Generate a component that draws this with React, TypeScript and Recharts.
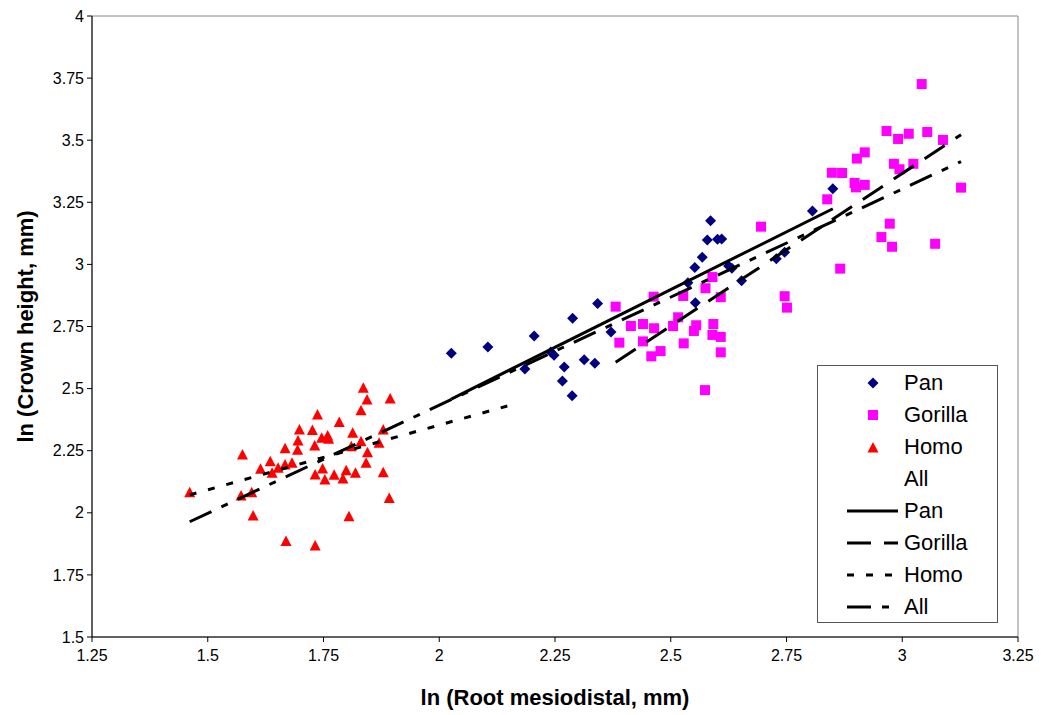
import { ScatterChart, Scatter, XAxis, YAxis, ReferenceArea, Legend, Label } from "recharts";

const panPts = [
  [2.026, 2.642], [2.105, 2.667], [2.185, 2.579], [2.205, 2.712], [2.241, 2.647],
  [2.248, 2.634], [2.266, 2.531], [2.27, 2.587], [2.287, 2.471], [2.288, 2.783],
  [2.313, 2.616], [2.336, 2.602], [2.342, 2.843], [2.371, 2.728], [2.537, 2.926],
  [2.552, 2.988], [2.553, 2.846], [2.568, 3.029], [2.579, 3.098], [2.586, 3.176],
  [2.601, 3.101], [2.61, 3.102], [2.625, 2.994], [2.632, 2.984], [2.653, 2.934],
  [2.728, 3.023], [2.746, 3.049], [2.806, 3.215], [2.85, 3.305],
];

const gorillaPts = [
  [2.381, 2.83], [2.389, 2.685], [2.414, 2.752], [2.44, 2.76], [2.44, 2.69],
  [2.458, 2.63], [2.463, 2.87], [2.464, 2.743], [2.478, 2.651], [2.505, 2.752],
  [2.516, 2.787], [2.527, 2.873], [2.528, 2.682], [2.55, 2.732], [2.555, 2.755],
  [2.574, 2.494], [2.575, 2.904], [2.59, 2.949], [2.59, 2.716], [2.592, 2.76],
  [2.608, 2.708], [2.608, 2.868], [2.608, 2.646], [2.695, 3.152], [2.746, 2.872],
  [2.751, 2.826], [2.838, 3.262], [2.848, 3.369], [2.866, 2.983], [2.87, 3.368],
  [2.897, 3.328], [2.9, 3.31], [2.902, 3.426], [2.919, 3.451], [2.919, 3.32],
  [2.955, 3.11], [2.966, 3.537], [2.973, 3.164], [2.978, 3.071], [2.982, 3.405],
  [2.991, 3.505], [2.994, 3.383], [3.014, 3.526], [3.024, 3.405], [3.042, 3.726],
  [3.054, 3.533], [3.071, 3.083], [3.088, 3.501], [3.127, 3.309],
];

const homoPts = [
  [1.461, 2.081], [1.572, 2.068], [1.575, 2.233], [1.595, 2.081], [1.598, 1.987],
  [1.614, 2.175], [1.635, 2.206], [1.639, 2.159], [1.652, 2.179], [1.667, 2.258],
  [1.667, 2.192], [1.669, 1.884], [1.682, 2.199], [1.694, 2.252], [1.695, 2.289],
  [1.698, 2.333], [1.726, 2.331], [1.731, 2.269], [1.732, 2.152], [1.732, 1.866],
  [1.737, 2.394], [1.746, 2.3], [1.748, 2.176], [1.753, 2.132], [1.759, 2.309],
  [1.761, 2.296], [1.773, 2.151], [1.784, 2.364], [1.792, 2.136], [1.799, 2.169],
  [1.805, 1.984], [1.81, 2.266], [1.813, 2.32], [1.819, 2.159], [1.831, 2.286],
  [1.831, 2.411], [1.836, 2.501], [1.842, 2.199], [1.844, 2.454], [1.845, 2.242],
  [1.87, 2.28], [1.879, 2.333], [1.879, 2.161], [1.892, 2.058], [1.894, 2.458],
];

// fitted lines, end points
const panFit = [[2.026, 2.458], [2.85, 3.224]];
const gorillaFit = [[2.381, 2.606], [3.127, 3.522]];
const homoFit = [[1.461, 2.072], [2.147, 2.43]];
const allFit = [[1.461, 1.964], [3.127, 3.414]];

const xTicks = [1.25, 1.5, 1.75, 2, 2.25, 2.5, 2.75, 3, 3.25];
const yTicks = [1.5, 1.75, 2, 2.25, 2.5, 2.75, 3, 3.25, 3.5, 3.75, 4];

const PAN = "#000080";
const GORILLA = "#FF00FF";
const HOMO = "#FF0000";

const DASH_GORILLA = "24 13";
const DASH_HOMO = "7 12";
const DASH_ALL = "24 11 7 11";

const rows = (pts: number[][]) => pts.map(([x, y]) => ({ x, y }));

const Diamond = (p: any) => {
  const { cx, cy } = p;
  const r = 5.5;
  return <polygon points={`${cx},${cy - r} ${cx + r},${cy} ${cx},${cy + r} ${cx - r},${cy}`} fill={PAN} />;
};

const Square = (p: any) => <rect x={p.cx - 5} y={p.cy - 5} width={10} height={10} fill={GORILLA} />;

const Triangle = (p: any) => {
  const { cx, cy } = p;
  return <polygon points={`${cx},${cy - 6} ${cx + 5.5},${cy + 4.5} ${cx - 5.5},${cy + 4.5}`} fill={HOMO} />;
};

const NoDot = () => <g />;

const legendItems = [
  { name: "Pan", kind: "diamond" },
  { name: "Gorilla", kind: "square" },
  { name: "Homo", kind: "triangle" },
  { name: "All", kind: "none" },
  { name: "Pan", kind: "line", dash: undefined },
  { name: "Gorilla", kind: "line", dash: DASH_GORILLA },
  { name: "Homo", kind: "line", dash: DASH_HOMO },
  { name: "All", kind: "line", dash: DASH_ALL },
];

const LegendBox = () => (
  <div style={{ border: "1px solid #555", background: "#fff", width: 179, height: 255, paddingTop: 1, boxSizing: "content-box" }}>
    {legendItems.map((it, i) => (
      <div key={i} style={{ height: 32, display: "flex", alignItems: "center" }}>
        <svg width={86} height={20} style={{ flex: "none" }}>
          {it.kind === "diamond" && <Diamond cx={55} cy={10} />}
          {it.kind === "square" && <Square cx={55} cy={10} />}
          {it.kind === "triangle" && <Triangle cx={55} cy={11} />}
          {it.kind === "line" && (
            <line x1={29} y1={10} x2={80} y2={10} stroke="#000" strokeWidth={3} strokeDasharray={it.dash} />
          )}
        </svg>
        <span style={{ fontSize: 22, color: "#000" }}>{it.name}</span>
      </div>
    ))}
  </div>
);

export default function App() {
  return (
    <div style={{ fontFamily: "'Liberation Sans', Arial, sans-serif" }}>
      <style>{`body{margin:0}`}</style>
      <ScatterChart width={1042} height={715} margin={{ top: 16, right: 24, bottom: 48, left: 32 }}>
        <ReferenceArea x1={1.25} x2={3.25} y1={1.5} y2={4} fill="none" stroke="#888" strokeWidth={1} ifOverflow="visible" />
        <XAxis
          type="number"
          dataKey="x"
          domain={[1.25, 3.25]}
          ticks={xTicks}
          allowDataOverflow
          height={30}
          tickSize={5}
          tickMargin={8}
          stroke="#000"
          tick={{ fill: "#000", fontSize: 16 }}
        >
          <Label value="ln (Root mesiodistal, mm)" position="insideBottom" offset={-38} style={{ fontSize: 22, fontWeight: "bold", fill: "#000" }} />
        </XAxis>
        <YAxis
          type="number"
          dataKey="y"
          domain={[1.5, 4]}
          ticks={yTicks}
          allowDataOverflow
          width={60}
          tickSize={5}
          tickMargin={3}
          stroke="#000"
          tick={{ fill: "#000", fontSize: 16 }}
        >
          <Label value="ln (Crown height, mm)" angle={-90} position="insideLeft" offset={-7} style={{ fontSize: 22, fontWeight: "bold", fill: "#000", textAnchor: "middle" }} />
        </YAxis>
        <Scatter name="Pan" data={rows(panPts)} shape={Diamond} isAnimationActive={false} />
        <Scatter name="Gorilla" data={rows(gorillaPts)} shape={Square} isAnimationActive={false} />
        <Scatter name="Homo" data={rows(homoPts)} shape={Triangle} isAnimationActive={false} />
        <Scatter name="Pan fit" data={rows(panFit)} shape={NoDot} line={{ stroke: "#000", strokeWidth: 3 }} isAnimationActive={false} />
        <Scatter name="Gorilla fit" data={rows(gorillaFit)} shape={NoDot} line={{ stroke: "#000", strokeWidth: 3, strokeDasharray: DASH_GORILLA }} isAnimationActive={false} />
        <Scatter name="Homo fit" data={rows(homoFit)} shape={NoDot} line={{ stroke: "#000", strokeWidth: 3, strokeDasharray: DASH_HOMO }} isAnimationActive={false} />
        <Scatter name="All fit" data={rows(allFit)} shape={NoDot} line={{ stroke: "#000", strokeWidth: 3, strokeDasharray: DASH_ALL }} isAnimationActive={false} />
        <Legend
          layout="vertical"
          verticalAlign="middle"
          align="center"
          content={() => <LegendBox />}
          wrapperStyle={{ position: "absolute", left: 817, top: 365, width: 181, height: 257, bottom: "auto", right: "auto", margin: 0 }}
        />
      </ScatterChart>
    </div>
  );
}
